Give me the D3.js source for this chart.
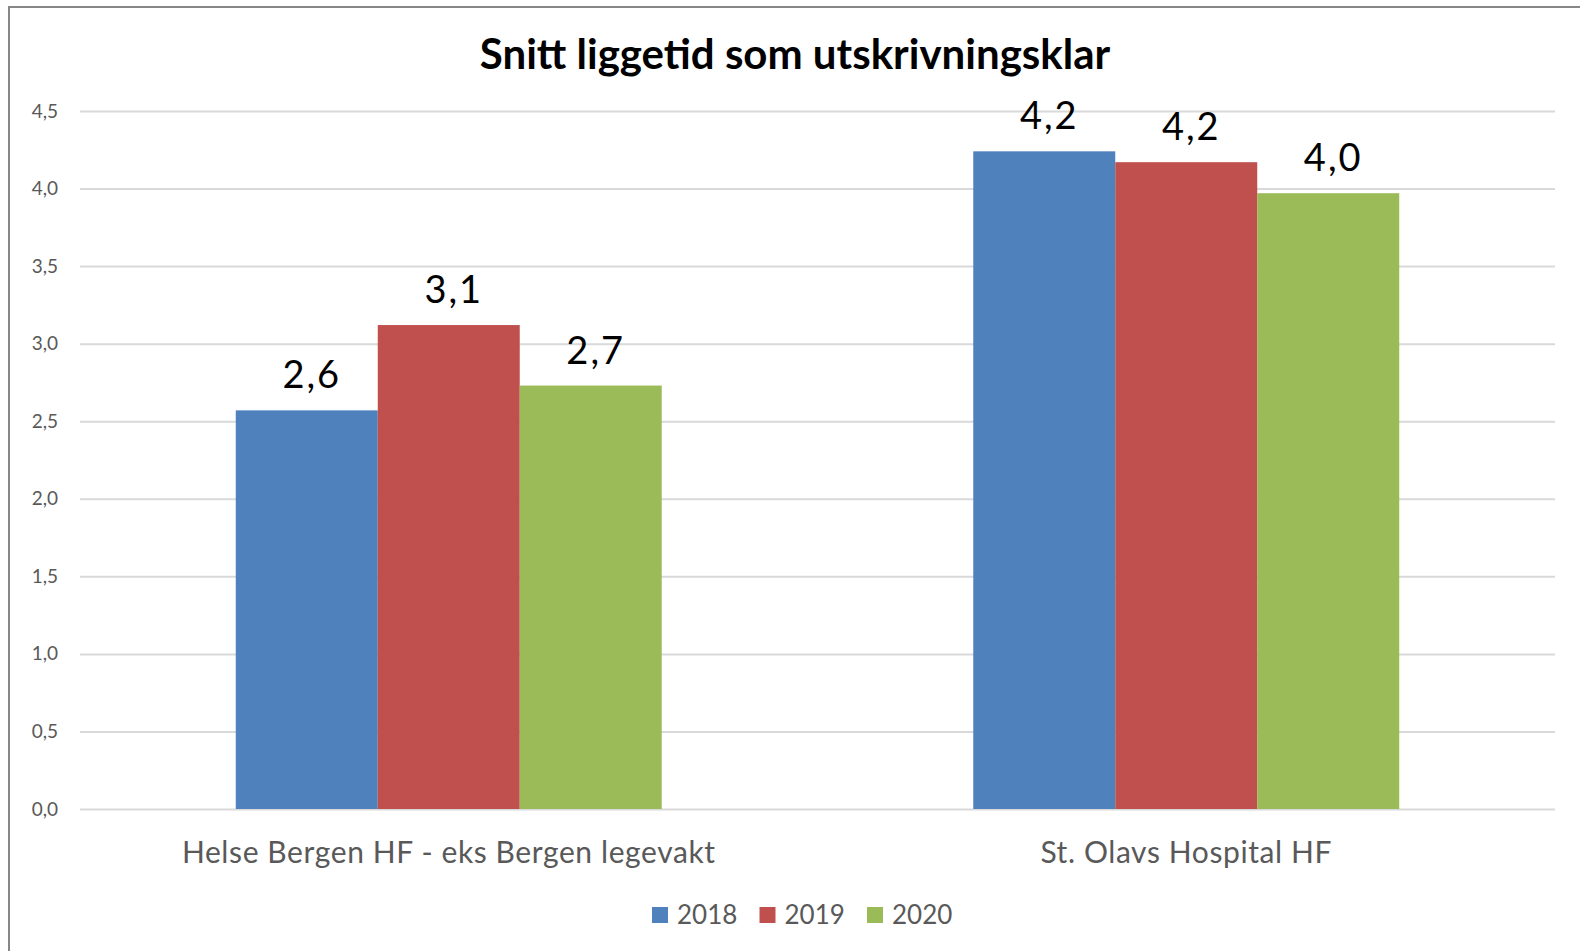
<!DOCTYPE html>
<html>
<head>
<meta charset="utf-8">
<script src="https://cdn.jsdelivr.net/npm/d3@7"></script>
<style>
  html, body { margin: 0; padding: 0; background: #fff; }
  svg { display: block; font-family: Lato, "Open Sans", sans-serif; }
</style>
</head>
<body>
<svg id="chart" width="1580" height="951"></svg>
<script>
const title = "Snitt liggetid som utskrivningsklar";
const categories = ["Helse Bergen HF - eks Bergen legevakt", "St. Olavs Hospital HF"];
const seriesNames = ["2018", "2019", "2020"];
const values2018 = [2.57, 4.24];
const values2019 = [3.12, 4.17];
const values2020 = [2.73, 3.97];
const yTicks = [0, 0.5, 1.0, 1.5, 2.0, 2.5, 3.0, 3.5, 4.0, 4.5];
const colors = ["#4f81bd", "#c0504d", "#9bbb59"];

const seriesValues = [values2018, values2019, values2020];
const table = categories.map((c, i) => ({
  category: c,
  values: seriesNames.map((s, j) => ({ series: s, value: seriesValues[j][i] }))
}));

const svg = d3.select("#chart");
const fmt = v => d3.format(".1f")(v).replace(".", ",");

// border
svg.append("rect")
  .attr("x", 9).attr("y", 7)
  .attr("width", 1600).attr("height", 1000)
  .attr("fill", "#fff")
  .attr("stroke", "#878787").attr("stroke-width", 2);

const plot = { left: 80, right: 1555, top: 111, bottom: 809 };

const y = d3.scaleLinear().domain([0, 4.5]).range([plot.bottom, plot.top]);
const x0 = d3.scaleBand().domain(categories).range([plot.left, plot.right])
  .paddingInner(0.4224).paddingOuter(0.2112);
const x1 = d3.scaleBand().domain(seriesNames).range([0, x0.bandwidth()]);
const color = d3.scaleOrdinal().domain(seriesNames).range(colors);

// gridlines + y labels
const yAxis = d3.axisLeft(y).tickValues(yTicks)
  .tickSize(-(plot.right - plot.left)).tickPadding(22)
  .tickFormat(fmt);
const gy = svg.append("g").attr("transform", `translate(${plot.left},0)`).call(yAxis);
gy.select(".domain").remove();
gy.selectAll(".tick line").attr("stroke", "#d9d9d9").attr("stroke-width", 2);
gy.selectAll(".tick text")
  .attr("fill", "#595959")
  .style("font-size", "19px")
  .style("font-family", "Lato, sans-serif");

// bars
const groups = svg.append("g").selectAll("g").data(table).join("g")
  .attr("transform", d => `translate(${x0(d.category)},0)`);

groups.selectAll("rect").data(d => d.values).join("rect")
  .attr("x", d => x1(d.series))
  .attr("y", d => y(d.value))
  .attr("width", x1.bandwidth())
  .attr("height", d => y(0) - y(d.value))
  .attr("fill", d => color(d.series));

groups.selectAll("text").data(d => d.values).join("text")
  .attr("x", d => x1(d.series) + x1.bandwidth() / 2 + 5)
  .attr("y", d => y(d.value) - 22)
  .attr("text-anchor", "middle")
  .attr("fill", "#000")
  .style("font-size", "38px")
  .style("letter-spacing", "2px")
  .text(d => fmt(d.value));

// x axis labels
const xAxis = d3.axisBottom(x0).tickSize(0).tickPadding(0);
const gx = svg.append("g").attr("transform", `translate(0,${plot.bottom})`).call(xAxis);
gx.select(".domain").remove();
gx.selectAll(".tick text")
  .attr("y", 54).attr("dy", null)
  .attr("fill", "#595959")
  .style("font-size", "30px")
  .style("letter-spacing", "0.6px")
  .style("font-family", "Lato, sans-serif");

// title
svg.append("text")
  .attr("x", 795).attr("y", 69)
  .attr("text-anchor", "middle")
  .attr("fill", "#000")
  .style("font-size", "42px")
  .style("font-weight", "bold")
  .text(title);

// legend
const legendStart = 652;
const legendStep = 107.5;
const lg = svg.append("g").selectAll("g").data(seriesNames).join("g")
  .attr("transform", (d, i) => `translate(${legendStart + i * legendStep},907)`);
lg.append("rect").attr("width", 16).attr("height", 16).attr("fill", d => color(d));
lg.append("text").attr("x", 25).attr("y", 17)
  .attr("fill", "#595959")
  .style("font-size", "26px")
  .text(d => d);
</script>
</body>
</html>
